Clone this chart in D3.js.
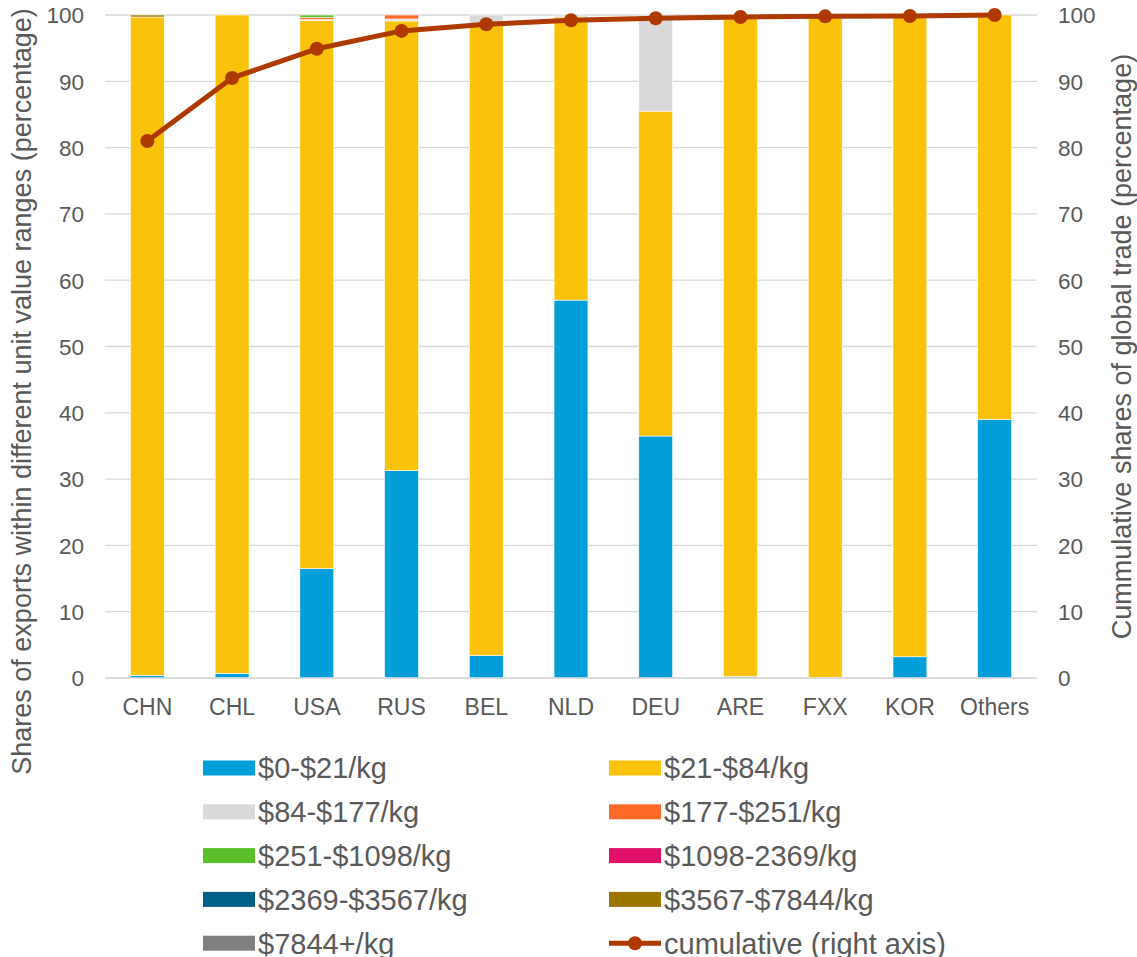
<!DOCTYPE html>
<html><head><meta charset="utf-8">
<script src="https://cdn.jsdelivr.net/npm/d3@7"></script>
<style>body{margin:0;background:#fff}svg{display:block}</style>
</head><body><svg id="c" width="1137" height="957"></svg>
<script>
const categories = ["CHN","CHL","USA","RUS","BEL","NLD","DEU","ARE","FXX","KOR","Others"];
const seriesNames = ["$0-$21/kg","$21-$84/kg","$84-$177/kg","$177-$251/kg","$251-$1098/kg","$1098-2369/kg","$2369-$3567/kg","$3567-$7844/kg","$7844+/kg"];
const seriesColors = ["#009FDA","#FAC20A","#D9D9D9","#FF6A28","#5BBF2A","#E0106A","#005F86","#9C7700","#808080"];
const s0 = [0.4,0.7,16.5,31.3,3.4,57.0,36.5,0.2,0.1,3.2,39.0];
const s1 = [99.3,99.3,82.7,67.8,95.1,42.7,49.0,99.6,99.9,96.8,61.0];
const s2 = [0,0,0.1,0.3,1.5,0.3,14.5,0.2,0,0,0];
const s3 = [0,0,0.3,0.6,0,0,0,0,0,0,0];
const s4 = [0,0,0.4,0,0,0,0,0,0,0,0];
const s5 = [0,0,0,0,0,0,0,0,0,0,0];
const s6 = [0,0,0,0,0,0,0,0,0,0,0];
const s7 = [0.3,0,0,0,0,0,0,0,0,0,0];
const s8 = [0,0,0,0,0,0,0,0,0,0,0];
const cumulative = [81.0,90.5,94.9,97.6,98.6,99.2,99.5,99.7,99.8,99.85,100];
const yTicks = [0,10,20,30,40,50,60,70,80,90,100];
const leftTitle = "Shares of exports within different unit value ranges (percentage)";
const rightTitle = "Cummulative shares of global trade (percentage)";
const lineLabel = "cumulative (right axis)";
const lineColor = "#AE3A00";

const series = [s0,s1,s2,s3,s4,s5,s6,s7,s8];
const svg = d3.select("#c");
const L=105, R=1037, T=15, B=678;
const x = d3.scaleBand().domain(categories).range([L,R]).paddingInner(0.6).paddingOuter(0.3);
const y = d3.scaleLinear().domain([0,100]).range([B,T]);
const y2 = d3.scaleLinear().domain([0,100]).range([B,T]);
const font = "'Liberation Sans', Arial, sans-serif";
const tc = "#595959";

// gridlines
svg.append("g").selectAll("line").data(yTicks).join("line")
  .attr("x1",L).attr("x2",R).attr("y1",d=>y(d)).attr("y2",d=>y(d))
  .attr("stroke","#D9D9D9").attr("stroke-width",1.3);

// stacked bars
const rows = categories.map((c,i)=>{const o={cat:c}; series.forEach((s,k)=>o["k"+k]=s[i]); return o;});
const stack = d3.stack().keys(series.map((s,k)=>"k"+k))(rows);
svg.append("g").selectAll("g").data(stack).join("g")
  .attr("fill",(d,k)=>seriesColors[k])
  .selectAll("rect").data(d=>d.filter(p=>p[1]-p[0]>0)).join("rect")
  .attr("x",p=>x(p.data.cat)).attr("width",x.bandwidth())
  .attr("y",p=>y(p[1])).attr("height",p=>y(p[0])-y(p[1]))
  .attr("stroke","#fff").attr("stroke-width",0.6);

// left axis
const ga = svg.append("g").attr("transform",`translate(${L-21},0)`)
  .call(d3.axisLeft(y).tickValues(yTicks).tickSize(0).tickPadding(0));
ga.select(".domain").remove();
ga.selectAll("text").attr("font-family",font).attr("font-size",22.5).attr("fill",tc).attr("dy","0.35em");
// right axis
const gr = svg.append("g").attr("transform",`translate(${R+21},0)`)
  .call(d3.axisRight(y2).tickValues(yTicks).tickSize(0).tickPadding(0));
gr.select(".domain").remove();
gr.selectAll("text").attr("font-family",font).attr("font-size",22.5).attr("fill",tc).attr("dy","0.35em");
// x axis
const gx = svg.append("g").attr("transform",`translate(0,${B})`)
  .call(d3.axisBottom(x).tickSize(0).tickPadding(0));
gx.select(".domain").attr("stroke","#D9D9D9").attr("stroke-width",1.3).attr("d",`M${L},0H${R}`);
gx.selectAll("text").attr("font-family",font).attr("font-size",23).attr("fill",tc).attr("dy",null).attr("y",37);

// axis titles
svg.append("text").attr("transform","translate(31,391.5) rotate(-90)").attr("text-anchor","middle")
  .attr("font-family",font).attr("font-size",27).attr("fill",tc).text(leftTitle);
svg.append("text").attr("transform","translate(1131,346.5) rotate(-90)").attr("text-anchor","middle")
  .attr("font-family",font).attr("font-size",27).attr("fill",tc).text(rightTitle);

// line
const cx = c=>x(c)+x.bandwidth()/2;
svg.append("path").datum(cumulative)
  .attr("d",d3.line().x((d,i)=>cx(categories[i])).y(d=>y2(d)))
  .attr("fill","none").attr("stroke",lineColor).attr("stroke-width",5).attr("stroke-linejoin","round");
svg.append("g").selectAll("circle").data(cumulative).join("circle")
  .attr("cx",(d,i)=>cx(categories[i])).attr("cy",d=>y2(d)).attr("r",7).attr("fill",lineColor);

// legend
const legItems = seriesNames.map((n,k)=>({name:n,color:seriesColors[k],line:false}));
legItems.push({name:lineLabel,color:lineColor,line:true});
const lg = svg.append("g");
legItems.forEach((it,i)=>{
  const col=i%2, row=Math.floor(i/2);
  const sx = col===0?203:609, cy = 768+row*43.8;
  if(it.line){
    lg.append("line").attr("x1",sx).attr("x2",sx+52).attr("y1",cy).attr("y2",cy).attr("stroke",it.color).attr("stroke-width",5);
    lg.append("circle").attr("cx",sx+26).attr("cy",cy).attr("r",7).attr("fill",it.color);
  } else {
    lg.append("rect").attr("x",sx).attr("y",cy-7.5).attr("width",52).attr("height",15).attr("fill",it.color);
  }
  lg.append("text").attr("x",sx+55).attr("y",cy).attr("dy","0.36em")
    .attr("font-family",font).attr("font-size",29).attr("fill",tc).text(it.name);
});
</script></body></html>
